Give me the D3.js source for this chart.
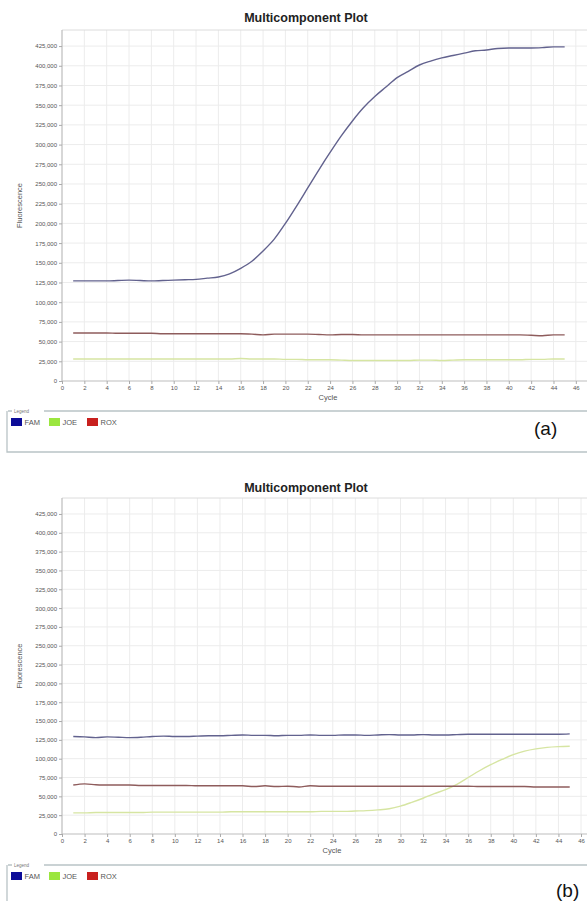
<!DOCTYPE html>
<html>
<head>
<meta charset="utf-8">
<script src="https://cdn.jsdelivr.net/npm/d3@7"></script>
<style>
  body { margin: 0; background: #fff; }
  svg { display: block; font-family: "Liberation Sans", Arial, sans-serif; }
</style>
</head>
<body>
<svg id="chart" width="587" height="901"></svg>
<script>
// cycles 1..45
var cycles = d3.range(1, 46);

var yTicks = d3.range(0, 425001, 25000);
var xTicks = d3.range(0, 47, 2);

var seriesNames = ["FAM", "JOE", "ROX"];
var legendColors = ["#0c0c98", "#9be63f", "#c8201e"];
var lineColors = ["#62628e", "#d6e5a2", "#8e5c5c"];

// panel (a)
var famA = [127000, 127000, 127000, 127000, 127500, 128000, 127500, 127000, 127500, 128000,
            128500, 129000, 130500, 132000, 136000, 143000, 152000, 165000, 180000, 200000,
            222000, 245000, 268000, 290000, 311000, 330000, 347000, 361000, 373000, 385000,
            393000, 401000, 406000, 410000, 413000, 416000, 419000, 420000, 422000, 422500,
            422500, 422500, 423000, 424000, 424000];
var joeA = [28000, 28000, 28000, 28000, 28000, 28000, 28000, 28000, 28000, 28000,
            28000, 28000, 28000, 28000, 28000, 28500, 28000, 28000, 28000, 27500,
            27500, 27000, 27000, 27000, 26500, 26000, 26000, 26000, 26000, 26000,
            26000, 26500, 26500, 26000, 26500, 27000, 27000, 27000, 27000, 27000,
            27000, 27500, 27500, 28000, 28000];
var roxA = [61000, 61000, 61000, 61000, 60500, 60500, 60500, 60500, 60000, 60000,
            60000, 60000, 60000, 60000, 60000, 60000, 59500, 58500, 59500, 59500,
            59500, 59500, 59000, 58500, 59000, 59000, 58500, 58500, 58500, 58500,
            58500, 58500, 58500, 58500, 58500, 58500, 58500, 58500, 58500, 58500,
            58500, 58000, 57500, 58500, 58500];

// panel (b)
var famB = [129500, 129000, 128000, 129000, 128500, 128000, 128500, 129500, 130000, 129500,
            129500, 130000, 130500, 130500, 131000, 131500, 131000, 131000, 130500, 131000,
            131000, 131500, 131000, 131000, 131500, 131500, 131000, 131500, 132000, 131500,
            131500, 132000, 131500, 131500, 132000, 132500, 132500, 132500, 132500, 132500,
            132500, 132500, 132500, 132500, 133000];
var joeB = [28000, 28000, 28500, 28500, 28500, 28500, 28500, 29000, 29000, 29000,
            29000, 29000, 29000, 29000, 29500, 29500, 29500, 29500, 29500, 29500,
            29500, 29500, 30000, 30000, 30000, 30500, 31000, 32000, 33500, 37000,
            42000, 47500, 53500, 59000, 66000, 75000, 84000, 92000, 99000, 105500,
            110000, 113000, 115000, 116000, 116500];
var roxB = [65000, 66500, 65500, 65000, 65000, 65000, 64500, 64500, 64500, 64500,
            64500, 64000, 64000, 64000, 64000, 64000, 63000, 64000, 63000, 63500,
            62500, 64000, 63500, 63500, 63500, 63500, 63500, 63500, 63500, 63500,
            63500, 63500, 63500, 63500, 63500, 63500, 63000, 63000, 63000, 63000,
            63000, 62500, 62500, 62500, 62500];

var svg = d3.select("#chart");

function drawPanel(cfg) {
    var g = svg.append("g");

    var x = d3.scaleLinear().domain([0, cfg.xMax]).range([cfg.left, cfg.right]);
    var y = d3.scaleLinear().domain([0, cfg.yMax]).range([cfg.bottom, cfg.top]);

    // grid
    g.append("g").selectAll("line").data(xTicks.filter(function (d) { return d > 0; }))
        .enter().append("line")
        .attr("x1", function (d) { return x(d); }).attr("x2", function (d) { return x(d); })
        .attr("y1", cfg.top).attr("y2", cfg.bottom)
        .attr("stroke", "#ececec").attr("stroke-width", 1);
    g.append("g").selectAll("line").data(yTicks.filter(function (d) { return d > 0; }))
        .enter().append("line")
        .attr("x1", cfg.left).attr("x2", 587)
        .attr("y1", function (d) { return y(d); }).attr("y2", function (d) { return y(d); })
        .attr("stroke", "#ececec").attr("stroke-width", 1);

    // top frame
    g.append("line")
        .attr("x1", cfg.left).attr("x2", 587)
        .attr("y1", cfg.top).attr("y2", cfg.top)
        .attr("stroke", "#dcdcdc");

    var yAxis = g.append("g")
        .attr("transform", "translate(" + cfg.left + ",0)")
        .call(d3.axisLeft(y).tickValues(yTicks).tickFormat(d3.format(",")).tickSize(3).tickPadding(2));
    var xAxis = g.append("g")
        .attr("transform", "translate(0," + cfg.bottom + ")")
        .call(d3.axisBottom(x).tickValues(xTicks).tickSize(3).tickPadding(2));

    [yAxis, xAxis].forEach(function (ax) {
        ax.select(".domain").attr("stroke", "#bdbdbd").attr("stroke-width", 1.2);
        ax.selectAll(".tick line").attr("stroke", "#aaa");
        ax.selectAll(".tick text").attr("fill", "#555").style("font-size", "6px");
    });
    yAxis.select(".domain").attr("d", "M0," + cfg.bottom + "V" + cfg.top);
    xAxis.select(".domain").attr("d", "M" + cfg.left + ",0H587");

    // lines
    var line = d3.line()
        .x(function (d, i) { return x(cycles[i]); })
        .y(function (d) { return y(d); })
        .curve(d3.curveMonotoneX);

    cfg.series.forEach(function (s, i) {
        g.append("path")
            .datum(s)
            .attr("fill", "none")
            .attr("stroke", lineColors[i])
            .attr("stroke-width", 1.4)
            .attr("d", line);
    });

    // title and axis labels
    g.append("text")
        .attr("x", cfg.titleX).attr("y", cfg.titleY)
        .attr("text-anchor", "middle")
        .style("font-size", "12.5px").style("font-weight", "bold").attr("fill", "#222")
        .text("Multicomponent Plot");

    g.append("text")
        .attr("x", cfg.cycleX).attr("y", cfg.bottom + 19)
        .attr("text-anchor", "middle")
        .style("font-size", "7.5px").attr("fill", "#555")
        .text("Cycle");

    g.append("text")
        .attr("transform", "translate(22," + ((cfg.top + cfg.bottom) / 2) + ") rotate(-90)")
        .attr("text-anchor", "middle")
        .style("font-size", "7.5px").attr("fill", "#555")
        .text("Fluorescence");

    // legend box
    var ly = cfg.legendTop;
    g.append("path")
        .attr("d", "M7," + ly + "V" + (ly + 41) + "H600M12," + ly + "H8M44," + ly + "H600")
        .attr("fill", "none").attr("stroke", "#b9c3c6").attr("stroke-width", 1.3);
    g.append("text")
        .attr("x", 14).attr("y", ly + 1.5)
        .style("font-size", "4.5px").attr("fill", "#777")
        .text("Legend");

    var itemX = [11, 49, 87];
    seriesNames.forEach(function (name, i) {
        g.append("rect")
            .attr("x", itemX[i]).attr("y", ly + 7)
            .attr("width", 11).attr("height", 8)
            .attr("fill", legendColors[i]);
        g.append("text")
            .attr("x", itemX[i] + 13.5).attr("y", ly + 14)
            .style("font-size", "7.5px").attr("fill", "#555")
            .text(name);
    });

    g.append("text")
        .attr("x", cfg.tagX).attr("y", cfg.tagY)
        .style("font-size", "19px").attr("fill", "#111")
        .text(cfg.tag);
}

drawPanel({
    left: 62, right: 587, top: 30, bottom: 381,
    xMax: 47, yMax: 445400,
    series: [famA, joeA, roxA],
    titleX: 306, titleY: 22, cycleX: 328,
    legendTop: 411, tag: "(a)", tagX: 534, tagY: 435
});

drawPanel({
    left: 62, right: 581, top: 498, bottom: 834,
    xMax: 46, yMax: 446200,
    series: [famB, joeB, roxB],
    titleX: 306, titleY: 492, cycleX: 332,
    legendTop: 865, tag: "(b)", tagX: 556, tagY: 897
});
</script>
</body>
</html>
